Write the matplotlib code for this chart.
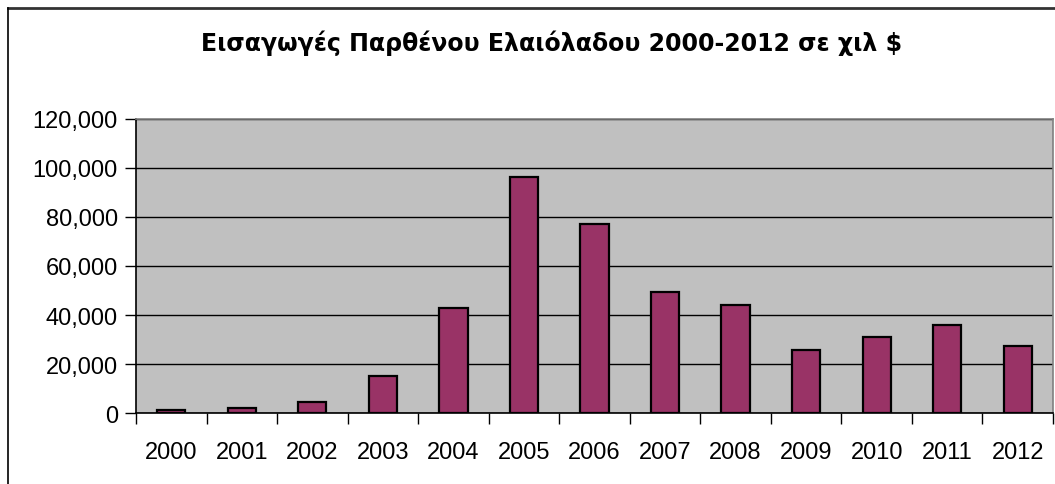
import matplotlib
matplotlib.use("Agg")
import matplotlib.pyplot as plt
from matplotlib.lines import Line2D
from matplotlib.ticker import FuncFormatter
import numpy as np

years = ["2000", "2001", "2002", "2003", "2004", "2005", "2006",
         "2007", "2008", "2009", "2010", "2011", "2012"]
imports = [1300, 2200, 4500, 15200, 42800, 96200, 77100,
           49500, 44100, 25900, 31200, 35800, 27400]
y_ticks = [0, 20000, 40000, 60000, 80000, 100000, 120000]
title = "Εισαγωγές Παρθένου Ελαιόλαδου 2000-2012 σε χιλ $"

plt.rcParams['font.family'] = ['Liberation Sans', 'DejaVu Sans']

W, H = 1055, 485
fig = plt.figure(figsize=(W / 100, H / 100), dpi=100)
ax = fig.add_axes([136 / W, 70.7 / H, (1053 - 136) / W, (414.3 - 119.7) / H])

x = np.arange(len(years))
ax.set_facecolor("#C0C0C0")
ax.bar(x, imports, width=0.4, color="#993366", edgecolor="black",
       linewidth=1.6, zorder=3)

ax.set_ylim(0, 120000)
ax.set_xlim(-0.5, len(years) - 0.5)
ax.set_yticks(y_ticks)
ax.yaxis.set_major_formatter(FuncFormatter(lambda v, p: f"{int(v):,}"))
ax.yaxis.grid(True, color="black", linewidth=1.0, zorder=1)
ax.set_axisbelow(True)

# ticks between categories, labels at the centres
ax.set_xticks(np.arange(-0.5, len(years), 1.0))
ax.set_xticklabels([])
ax.set_xticks(x, minor=True)
ax.set_xticklabels(years, minor=True)
ax.tick_params(axis="x", which="minor", length=0, pad=20, labelsize=17)
ax.tick_params(axis="x", which="major", length=8, width=1, color="black")
ax.tick_params(axis="y", length=8, width=1, labelsize=17, pad=5)

ax.spines["left"].set_color("black")
ax.spines["bottom"].set_color("black")
ax.spines["top"].set_color("#808080")
ax.spines["right"].set_color("#808080")
for s in ax.spines.values():
    s.set_linewidth(1.2)

fig.text(552 / W, 1 - 43 / H, title, ha="center", va="center",
         fontsize=17, fontweight="bold", family="DejaVu Sans")

# chart frame
fig.add_artist(Line2D([8 / W, 1.0], [1 - 9 / H, 1 - 9 / H],
                      transform=fig.transFigure, color="#333333", linewidth=2))
fig.add_artist(Line2D([8 / W, 8 / W], [0, 1 - 9 / H],
                      transform=fig.transFigure, color="black", linewidth=1.2))

fig.savefig("out.png", dpi=100)
